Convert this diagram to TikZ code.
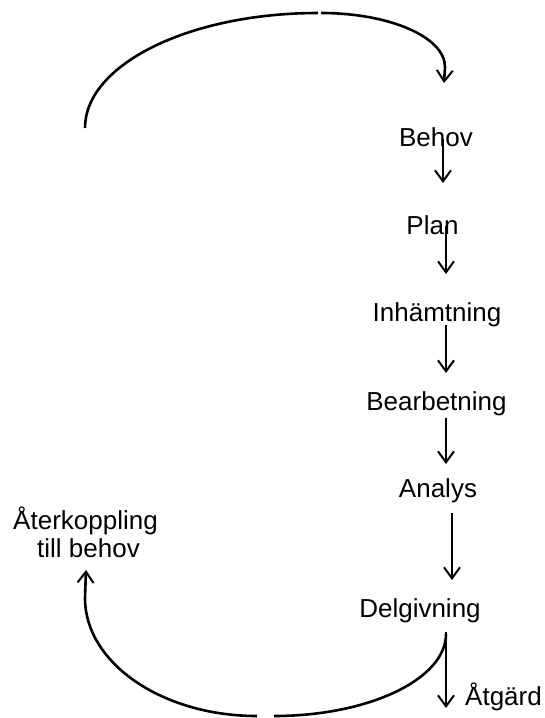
\documentclass[tikz,border=0pt]{standalone}
\usepackage{fontspec}
\setmainfont{Liberation Sans}
\usetikzlibrary{arrows.meta}
\tikzset{
  lbl/.style={font=\fontsize{26}{29}\selectfont, inner sep=0pt, anchor=base},
  curve/.style={line width=2.6pt, line cap=butt},
  arr/.style={line width=2pt, -{Straight Barb[length=11pt,width=16pt,line width=2pt]}},
}
\begin{document}
\begin{tikzpicture}[x=1pt,y=-1pt]
\useasboundingbox (0,0) rectangle (544,718);
% labels
\node[lbl] (behov) at (436,146) {Behov};
\node[lbl] (plan) at (432.5,234) {Plan};
\node[lbl] (inh) at (437,321) {Inhämtning};
\node[lbl] (bearb) at (436.5,410) {Bearbetning};
\node[lbl] (analys) at (438,497) {Analys};
\node[lbl] (delg) at (420,617) {Delgivning};
\node[lbl, anchor=base west] (atg) at (465,705) {Åtgärd};
\node[lbl] (fb1) at (85.5,529) {Återkoppling};
\node[lbl] (fb2) at (88.5,557) {till behov};
% coordinates
\coordinate (tl1) at (85,128);
\coordinate (tl2) at (318,13);
\coordinate (tr1) at (321,13);
\coordinate (tr2) at (445,67);
\coordinate (trtip) at (444,83);
\coordinate (a1s) at (443,139); \coordinate (a1e) at (443,183);
\coordinate (a2s) at (446,226); \coordinate (a2e) at (446,274);
\coordinate (a3s) at (446,325); \coordinate (a3e) at (446,373);
\coordinate (a4s) at (446,418); \coordinate (a4e) at (446,464);
\coordinate (a5s) at (452,513); \coordinate (a5e) at (452,580);
\coordinate (a6s) at (446,632); \coordinate (a6e) at (446,708);
\coordinate (br1) at (446,634);
\coordinate (br2) at (274,716);
\coordinate (bl1) at (257,716);
\coordinate (bl2) at (85,598);
\coordinate (bltip) at (86,570);
% top arc
\draw[curve] (tl1) .. controls (85,64.5) and (189.4,13) .. (tl2);
\draw[curve, -{Straight Barb[length=11pt,width=16pt,line width=2pt]}] (tr1) .. controls (389.5,13) and (445,37) .. (tr2) -- (trtip);
% chain arrows
\draw[arr] (a1s) -- (a1e);
\draw[arr] (a2s) -- (a2e);
\draw[arr] (a3s) -- (a3e);
\draw[arr] (a4s) -- (a4e);
\draw[arr] (a5s) -- (a5e);
\draw[arr] (a6s) -- (a6e);
% bottom arc
\draw[curve] (br1) .. controls (446,679) and (369,716) .. (br2);
\draw[curve, -{Straight Barb[length=11pt,width=16pt,line width=2pt]}] (bl1) .. controls (162,716) and (85,663) .. (bl2) -- (bltip);
\end{tikzpicture}
\end{document}
